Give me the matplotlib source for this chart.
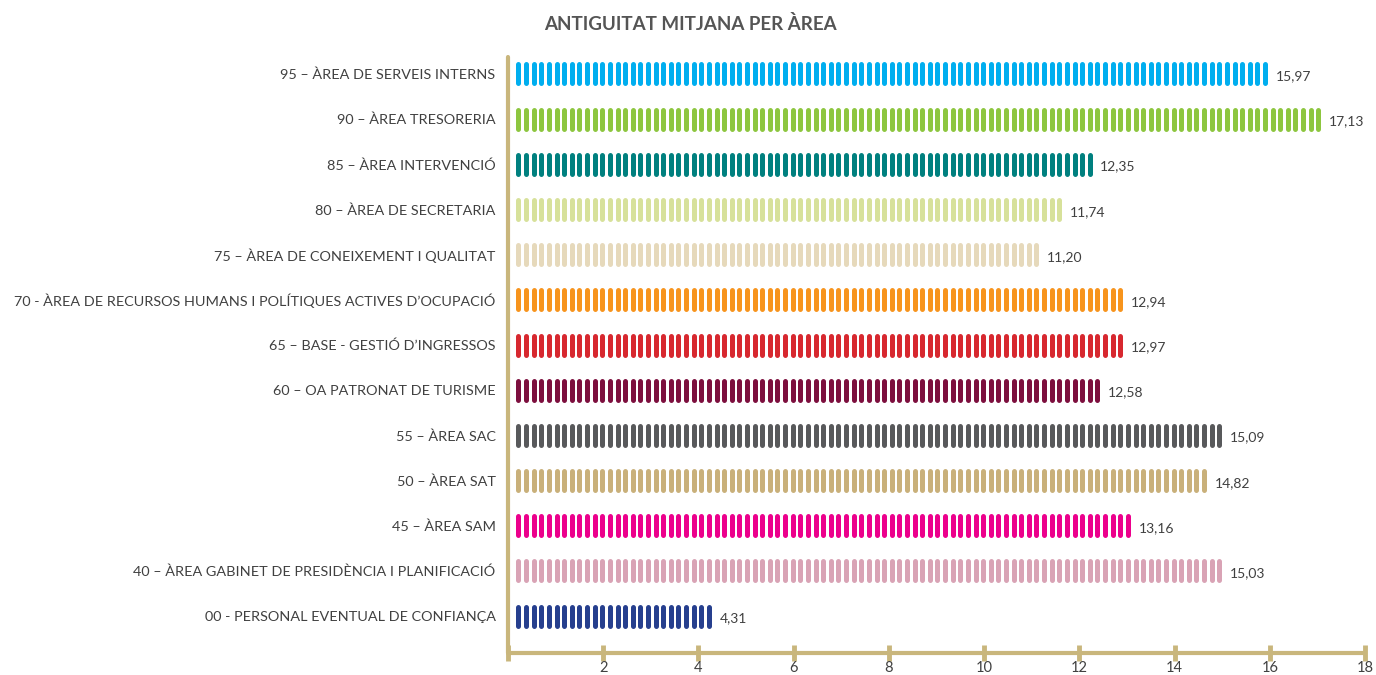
import matplotlib.pyplot as plt
import numpy as np

categories = [
    "95 – ÀREA DE SERVEIS INTERNS",
    "90 – ÀREA TRESORERIA",
    "85 – ÀREA INTERVENCIÓ",
    "80 – ÀREA DE SECRETARIA",
    "75 – ÀREA DE CONEIXEMENT I QUALITAT",
    "70 - ÀREA DE RECURSOS HUMANS I POLÍTIQUES ACTIVES D’OCUPACIÓ",
    "65 – BASE - GESTIÓ D’INGRESSOS",
    "60 – OA PATRONAT DE TURISME",
    "55 – ÀREA SAC",
    "50 – ÀREA SAT",
    "45 – ÀREA SAM",
    "40 – ÀREA GABINET DE PRESIDÈNCIA I PLANIFICACIÓ",
    "00 - PERSONAL EVENTUAL DE CONFIANÇA",
]
values = [15.97, 17.13, 12.35, 11.74, 11.20, 12.94, 12.97, 12.58, 15.09, 14.82, 13.16, 15.03, 4.31]
value_labels = ["15,97", "17,13", "12,35", "11,74", "11,20", "12,94", "12,97",
                "12,58", "15,09", "14,82", "13,16", "15,03", "4,31"]
colors = ["#00aeef", "#8dc63f", "#00807f", "#d7e19a", "#e6d9bb", "#f7941d", "#d7282f",
          "#7d0f3e", "#58595b", "#c9b07a", "#ec008c", "#d9a3b5", "#263f8e"]
ticks = [0, 2, 4, 6, 8, 10, 12, 14, 16, 18]

axis_color = "#c9b67c"
text_color = "#404040"
plt.rcParams['font.family'] = ['Lato', 'DejaVu Sans']

fig = plt.figure(figsize=(13.76, 6.75), dpi=100)
ax = fig.add_axes([0.3692, 0.0326, 0.6228, 0.883])

n = len(categories)
start = 0.22
pitch = 0.16
for i, (cat, val, lab, col) in enumerate(zip(categories, values, value_labels, colors)):
    y = n - 1 - i
    # dashes stop a little before the value, as in the original
    xs = np.arange(start, val - 0.05, pitch)
    ax.vlines(xs, y - 0.21, y + 0.21, colors=col, linewidth=3.6, capstyle='round', zorder=3)
    ax.text(xs[-1] + 0.22, y - 0.05, lab, ha='left', va='center', fontsize=10, color=text_color)

ax.set_xlim(0, 18)
ax.set_ylim(-0.816, n - 1 + 0.375)
ax.set_yticks(range(n))
ax.set_yticklabels(categories[::-1], fontsize=10.4, color=text_color)
ax.tick_params(axis='y', length=0, pad=9)
ax.set_xticks(ticks)
ax.set_xticklabels([""] + [str(t) for t in ticks[1:]], fontsize=10.5, color=text_color)
ax.tick_params(axis='x', direction='inout', length=11, width=3.5, color=axis_color, pad=0)

for side in ['top', 'right']:
    ax.spines[side].set_visible(False)
for side in ['left', 'bottom']:
    ax.spines[side].set_color(axis_color)
    ax.spines[side].set_linewidth(3)
    ax.spines[side].set_capstyle('round')

fig.text(0.502, 0.965, "ANTIGUITAT MITJANA PER ÀREA", ha='center', va='center',
         fontsize=13.5, fontweight='bold', color="#555555")

fig.savefig("out.png", dpi=100)
